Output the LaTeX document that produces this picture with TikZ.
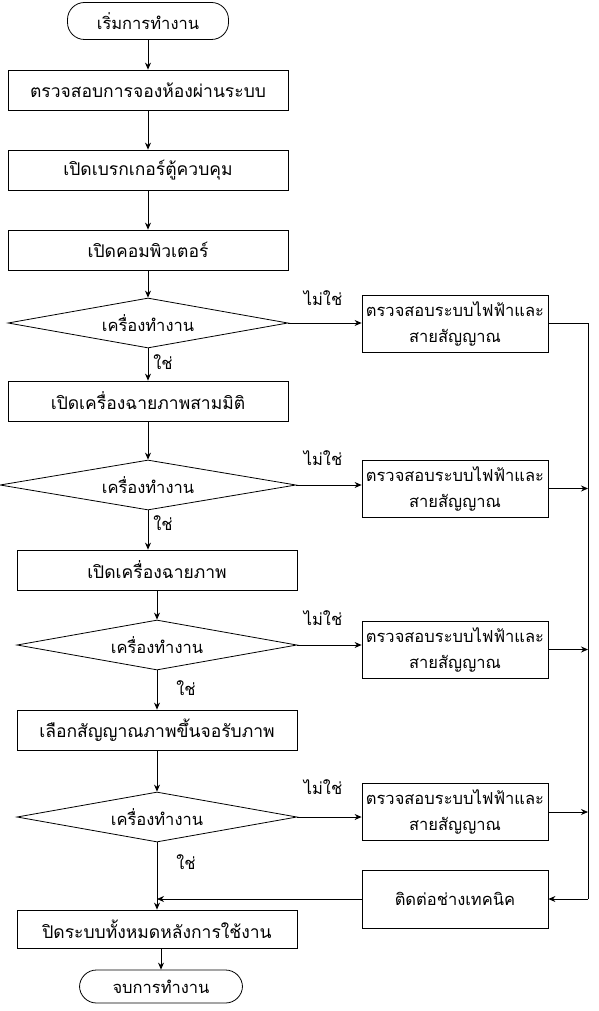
\documentclass[tikz,border=0pt]{standalone}
\usepackage{fontspec}
\newfontfamily\thaifont[Script=Thai]{Loma}
\usepackage{tikz}
\usetikzlibrary{arrows.meta,shapes.geometric}
\tikzstyle{arrow}=[-{Stealth[length=7pt,width=6pt]},line width=.8pt,draw=black]
\tikzstyle{line}=[line width=.8pt,draw=black]
\tikzstyle{stepbox}=[draw,line width=.8pt,minimum width=280pt,minimum height=40pt,inner sep=0pt,font=\thaifont\fontsize{17.5}{26}\selectfont]
\tikzstyle{sidebox}=[draw,line width=.8pt,minimum width=186pt,minimum height=57pt,inner sep=0pt,align=center]
\tikzstyle{terminal}=[draw,line width=.8pt,rounded corners=17pt,inner sep=0pt]
\tikzstyle{decision}=[draw,line width=.8pt,diamond,aspect=5,inner sep=0pt,minimum width=280pt,minimum height=50pt]

\begin{document}
\begin{tikzpicture}[x=1pt,y=-1pt,font=\thaifont\fontsize{16.5}{26}\selectfont]
	\useasboundingbox (0,0) rectangle (598,1011);

	%main column
	\node[terminal,minimum width=161pt,minimum height=37pt] (start) at (148,21) {เริ่มการทำงาน};
	\node[stepbox] (check) at (148,90) {ตรวจสอบการจองห้องผ่านระบบ};
	\node[stepbox] (breaker) at (148,170) {เปิดเบรกเกอร์ตู้ควบคุม};
	\node[stepbox] (computer) at (148,250) {เปิดคอมพิวเตอร์};
	\node[decision] (test1) at (148,323) {เครื่องทำงาน};
	\node[stepbox] (proj3d) at (148,401) {เปิดเครื่องฉายภาพสามมิติ};
	\node[decision,minimum width=296pt] (test2) at (148,485) {เครื่องทำงาน};
	\node[stepbox] (proj) at (157,570) {เปิดเครื่องฉายภาพ};
	\node[decision] (test3) at (157,645) {เครื่องทำงาน};
	\node[stepbox] (signal) at (157,730) {เลือกสัญญาณภาพขึ้นจอรับภาพ};
	\node[decision] (test4) at (157,817) {เครื่องทำงาน};
	\node[stepbox,minimum height=38pt] (shutdown) at (157,929) {ปิดระบบทั้งหมดหลังการใช้งาน};
	\node[terminal,minimum width=163pt,minimum height=33pt] (stop) at (161,986.5) {จบการทำงาน};

	%side column
	\node[sidebox] (fix1) at (455,323.5) {ตรวจสอบระบบไฟฟ้าและ\\สายสัญญาณ};
	\node[sidebox] (fix2) at (455,488.5) {ตรวจสอบระบบไฟฟ้าและ\\สายสัญญาณ};
	\node[sidebox] (fix3) at (455,649.5) {ตรวจสอบระบบไฟฟ้าและ\\สายสัญญาณ};
	\node[sidebox] (fix4) at (455,812) {ตรวจสอบระบบไฟฟ้าและ\\สายสัญญาณ};
	\node[sidebox,minimum height=58pt] (tech) at (455,899) {ติดต่อช่างเทคนิค};
	\coordinate (rail top) at (588,323.5);
	\coordinate (rail end) at (588,899);

	%labels
	\node (no1) at (323,298) {ไม่ใช่};
	\node (no2) at (323,458) {ไม่ใช่};
	\node (no3) at (323,618) {ไม่ใช่};
	\node (no4) at (323,787) {ไม่ใช่};
	\node (yes1) at (163,362) {ใช่};
	\node (yes2) at (163,523) {ใช่};
	\node (yes3) at (186,688) {ใช่};
	\node (yes4) at (186,862) {ใช่};

	%flow
	\draw[arrow] (start) -- (check);
	\draw[arrow] (check) -- (breaker);
	\draw[arrow] (breaker) -- (computer);
	\draw[arrow] (computer) -- (test1);
	\draw[arrow] (test1) -- (proj3d);
	\draw[arrow] (proj3d) -- (test2);
	\draw[arrow] (test2.south) -- (test2.south |- proj.north);
	\draw[arrow] (proj) -- (test3);
	\draw[arrow] (test3) -- (signal);
	\draw[arrow] (signal) -- (test4);
	\draw[arrow] (test4) -- (shutdown);
	\draw[arrow] (shutdown.south -| stop.north) -- (stop);

	%no branches
	\draw[arrow] (test1.east) -- (fix1.west |- test1.east);
	\draw[arrow] (test2.east) -- (fix2.west |- test2.east);
	\draw[arrow] (test3.east) -- (fix3.west |- test3.east);
	\draw[arrow] (test4.east) -- (fix4.west |- test4.east);
	\draw[line] (fix1.east) -- (rail top) -- (rail end);
	\draw[arrow] (fix2.east) -- (fix2.east -| rail top);
	\draw[arrow] (fix3.east) -- (fix3.east -| rail top);
	\draw[arrow] (fix4.east) -- (fix4.east -| rail top);
	\draw[arrow] (rail end) -- (tech.east);
	\draw[arrow] (tech.west) -- (tech.west -| shutdown.north);
\end{tikzpicture}
\end{document}
